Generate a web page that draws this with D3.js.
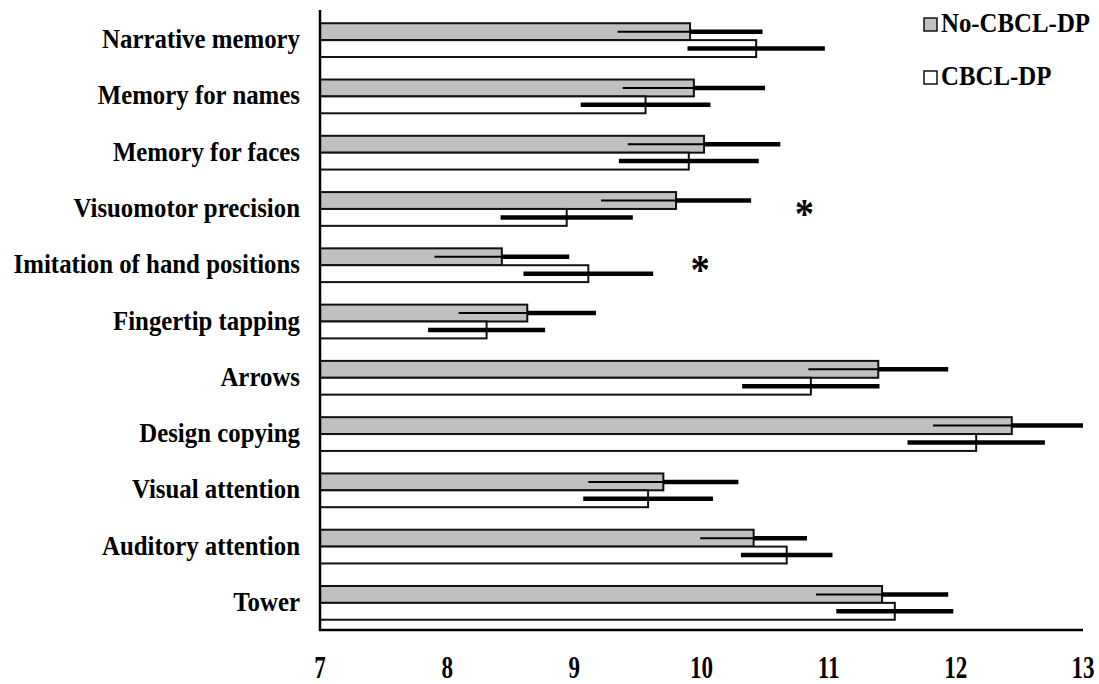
<!DOCTYPE html>
<html>
<head>
<meta charset="utf-8">
<script src="https://cdn.jsdelivr.net/npm/d3@7/dist/d3.min.js"></script>
<style>
  html, body { margin: 0; padding: 0; background: #fff; }
  svg { display: block; }
</style>
</head>
<body>
<svg id="chart" width="1099" height="684"></svg>
<script>
// ---- data ----
const categories = ["Narrative memory", "Memory for names", "Memory for faces", "Visuomotor precision",
  "Imitation of hand positions", "Fingertip tapping", "Arrows", "Design copying",
  "Visual attention", "Auditory attention", "Tower"];
const seriesNames = ["No-CBCL-DP", "CBCL-DP"];
const noCbclMean = [9.91, 9.94, 10.02, 9.80, 8.43, 8.63, 11.39, 12.44, 9.70, 10.41, 11.42];
const noCbclErr  = [0.57, 0.56, 0.60, 0.59, 0.53, 0.54, 0.55, 0.62, 0.59, 0.42, 0.52];
const cbclMean   = [10.43, 9.56, 9.90, 8.94, 9.11, 8.31, 10.86, 12.16, 9.58, 10.67, 11.52];
const cbclErr    = [0.54, 0.51, 0.55, 0.52, 0.51, 0.46, 0.54, 0.54, 0.51, 0.36, 0.46];
const xTicks = [7, 8, 9, 10, 11, 12, 13];
const sigCategories = ["Visuomotor precision", "Imitation of hand positions"];
const sigPositions = [10.81, 9.99];

// ---- layout ----
const FONT = "Liberation Serif";
const svg = d3.select("#chart");
const SX = 0.92; // horizontal text compression seen in the reference
const x = d3.scaleLinear().domain([7, 13]).range([320, 1083]);
const y = d3.scaleBand().domain(categories).range([12, 631]).paddingInner(0.4).paddingOuter(0.2);
const ys = d3.scaleBand().domain(seriesNames).range([0, y.bandwidth()]);
const fills = { "No-CBCL-DP": "#c0c0c0", "CBCL-DP": "#ffffff" };

function txt(sel) {
  return sel.attr("font-family", FONT).attr("font-weight", "bold").attr("fill", "#000");
}

const rows = categories.map((c, i) => ({
  cat: c,
  vals: [
    { s: "No-CBCL-DP", m: noCbclMean[i], e: noCbclErr[i] },
    { s: "CBCL-DP", m: cbclMean[i], e: cbclErr[i] }
  ]
}));

const g = svg.append("g");
const clipHi = v => Math.min(v, 13);

rows.forEach(r => {
  r.vals.forEach(v => {
    const y0 = y(r.cat) + ys(v.s);
    const h = ys.bandwidth();
    g.append("rect")
      .attr("x", x(7)).attr("y", y0)
      .attr("width", x(v.m) - x(7)).attr("height", h)
      .attr("fill", fills[v.s]).attr("stroke", "#111").attr("stroke-width", 2);
    const cy = y0 + h / 2;
    if (v.s === "No-CBCL-DP") {
      g.append("line").attr("x1", x(v.m - v.e)).attr("x2", x(v.m))
        .attr("y1", cy).attr("y2", cy).attr("stroke", "#000").attr("stroke-width", 2);
      g.append("line").attr("x1", x(v.m)).attr("x2", x(clipHi(v.m + v.e)))
        .attr("y1", cy).attr("y2", cy).attr("stroke", "#000").attr("stroke-width", 4.5);
    } else {
      g.append("line").attr("x1", x(v.m - v.e)).attr("x2", x(clipHi(v.m + v.e)))
        .attr("y1", cy).attr("y2", cy).attr("stroke", "#000").attr("stroke-width", 4.5);
    }
  });
});

// axes lines
svg.append("line").attr("x1", x(7)).attr("x2", x(7)).attr("y1", 10).attr("y2", 631)
  .attr("stroke", "#000").attr("stroke-width", 2.5);
svg.append("line").attr("x1", x(7) - 1).attr("x2", x(13)).attr("y1", 630).attr("y2", 630)
  .attr("stroke", "#000").attr("stroke-width", 2.5);

// category labels
categories.forEach(c => {
  txt(svg.append("text"))
    .attr("transform", `translate(300,${y(c) + y.bandwidth() / 2 + 8}) scale(${SX},1)`)
    .attr("text-anchor", "end").attr("font-size", 27).text(c);
});

// x tick labels (tall, narrow digits)
xTicks.forEach(t => {
  txt(svg.append("text"))
    .attr("transform", `translate(${x(t)},678) scale(0.72,1)`)
    .attr("text-anchor", "middle").attr("font-size", 32).text(t);
});

// significance stars
sigCategories.forEach((c, i) => {
  txt(svg.append("text"))
    .attr("transform", `translate(${x(sigPositions[i])},${y(c) + y.bandwidth() / 2 + 19}) scale(${SX},1)`)
    .attr("text-anchor", "middle").attr("font-size", 42).text("*");
});

// legend
const legY = [18, 71];
seriesNames.forEach((s, i) => {
  svg.append("rect").attr("x", 924).attr("y", legY[i]).attr("width", 13).attr("height", 13)
    .attr("fill", fills[s]).attr("stroke", "#111").attr("stroke-width", 1.5);
  txt(svg.append("text"))
    .attr("transform", `translate(941,${legY[i] + 14}) scale(${SX},1)`)
    .attr("font-size", 27).text(s);
});
</script>
</body>
</html>
